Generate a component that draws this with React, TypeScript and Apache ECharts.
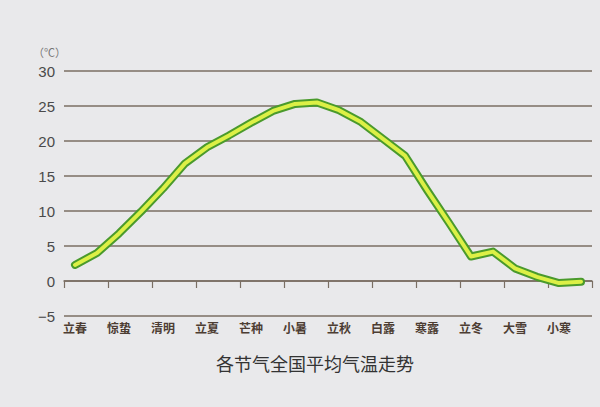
import React, { useEffect, useRef } from "react";
import * as echarts from "echarts";

const solarTerms = [
  "立春", "雨水", "惊蛰", "春分", "清明", "谷雨", "立夏", "小满",
  "芒种", "夏至", "小暑", "大暑", "立秋", "处暑", "白露", "秋分",
  "寒露", "霜降", "立冬", "小雪", "大雪", "冬至", "小寒", "大寒",
];
const avgTemp = [
  2.3, 4.0, 6.8, 9.9, 13.2, 16.8, 19.1, 20.8, 22.6, 24.3, 25.3, 25.5,
  24.4, 22.7, 20.3, 17.9, 13.0, 8.3, 3.5, 4.2, 1.8, 0.6, -0.3, -0.1,
];
const titleText = "各节气全国平均气温走势";
const unitText = "（℃）";

export default function App() {
  const ref = useRef<HTMLDivElement>(null);
  useEffect(() => {
    if (!ref.current) return;
    const chart = echarts.init(ref.current, null, { renderer: "svg" });
    const lineColor = "#7a6e63";
    chart.setOption({
      animation: false,
      backgroundColor: "#e9e9eb",
      grid: { left: 64, right: 8, top: 71, bottom: 91 },
      xAxis: [
        {
          type: "category",
          data: solarTerms,
          boundaryGap: true,
          axisLine: { onZero: true, lineStyle: { color: lineColor, width: 1.5 } },
          axisTick: { show: true, length: 7, lineStyle: { color: lineColor, width: 1.2 } },
          axisLabel: { show: false },
          splitLine: { show: false },
        },
        {
          type: "category",
          data: solarTerms,
          boundaryGap: true,
          position: "bottom",
          axisLine: { show: false, onZero: false },
          axisTick: { show: false },
          axisLabel: {
            show: true,
            interval: 1,
            margin: 5,
            fontSize: 12,
            fontWeight: "bold",
            color: "#4d3d33",
            fontFamily: "Noto Sans CJK SC",
          },
        },
      ],
      yAxis: {
        type: "value",
        min: -5,
        max: 30,
        interval: 5,
        axisLine: { show: false },
        axisTick: { show: false },
        axisLabel: {
          margin: 9,
          fontSize: 15,
          color: "#4a4a4a",
          fontFamily: "Liberation Sans",
          formatter: (v: number) => String(v).replace("-", "−"),
        },
        splitLine: { lineStyle: { color: lineColor, width: 1.5 } },
      },
      graphic: [
        {
          type: "text",
          x: 33,
          y: 52,
          style: {
            text: unitText,
            fontSize: 11,
            fill: "#777777",
            fontFamily: "Noto Sans CJK SC",
            textVerticalAlign: "middle",
          },
        },
        {
          type: "text",
          x: 315,
          y: 363,
          style: {
            text: titleText,
            fontSize: 18,
            fill: "#333333",
            fontFamily: "Noto Sans CJK SC",
            textAlign: "center",
            textVerticalAlign: "middle",
          },
        },
      ],
      series: [
        {
          type: "line",
          data: avgTemp,
          xAxisIndex: 0,
          symbol: "none",
          lineStyle: { color: "#4a9a2c", width: 8, cap: "round", join: "round" },
          z: 2,
        },
        {
          type: "line",
          data: avgTemp,
          xAxisIndex: 0,
          symbol: "none",
          lineStyle: { color: "#dcf046", width: 4, cap: "round", join: "round" },
          z: 3,
        },
      ],
    });
    return () => chart.dispose();
  }, []);
  return (
    <div
      ref={ref}
      style={{ position: "absolute", left: 0, top: 0, width: 600, height: 407 }}
    />
  );
}
